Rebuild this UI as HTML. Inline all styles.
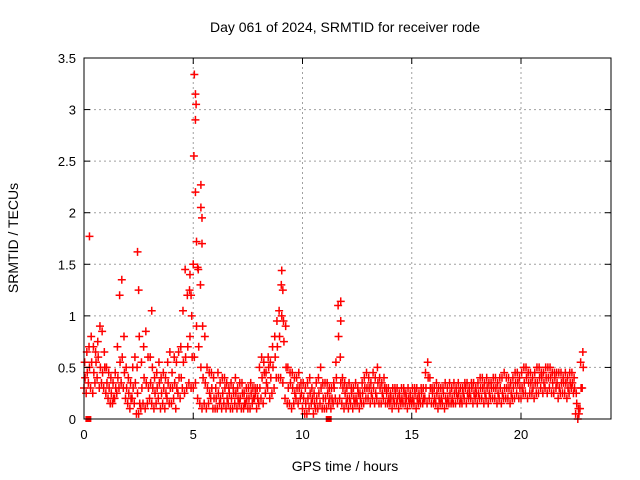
<!DOCTYPE html>
<html><head><meta charset="utf-8"><style>
body{margin:0;background:#fff;}
svg{display:block;font-family:"Liberation Sans",sans-serif;}
</style></head><body>
<svg id="chart" width="640" height="480">
<text x="345" y="32" text-anchor="middle" font-size="14">Day 061 of 2024, SRMTID for receiver rode</text>
<text x="0" y="0" transform="translate(18,238) rotate(-90)" text-anchor="middle" font-size="14">SRMTID / TECUs</text>
<text x="345" y="471" text-anchor="middle" font-size="14">GPS time / hours</text>
<g id="grid"></g><g id="marks"></g><g id="axes"></g>
</svg>
<script>
const xTicks=[0,5,10,15,20];
const yTicks=[0,0.5,1,1.5,2,2.5,3,3.5];
const yTickLabels=["0","0.5","1","1.5","2","2.5","3","3.5"];
const srmtidLow=[.30,.25,.35,.30,.25,.35,.40,.30,.35,.30,.25,.20,.15,.15,.20,.25,.30,.35,.30,.20,.15,.10,.20,.15,.05,.05,.10,.15,.10,.15,.20,.15,.10,.15,.20,.10,.15,.10,.20,.15,.15,.20,.10,.25,.20,.30,.25,.30,.35,.30,.30,.35,.20,.15,.10,.15,.10,.15,.20,.10,.10,.10,.15,.10,.15,.10,.15,.10,.10,.15,.10,.15,.10,.10,.15,.10,.10,.15,.20,.10,.15,.20,.15,.25,.30,.20,.25,.30,.40,.40,.40,.35,.20,.15,.15,.10,.15,.20,.15,.20,.10,.05,.05,.10,.15,.05,.10,.10,.15,.10,.10,.10,.15,.10,.15,.20,.15,.20,.15,.10,.15,.10,.15,.10,.15,.15,.10,.15,.15,.20,.20,.15,.20,.15,.20,.15,.15,.20,.15,.15,.15,.10,.15,.15,.10,.15,.15,.15,.10,.15,.15,.15,.10,.15,.15,.15,.20,.15,.20,.15,.15,.15,.10,.15,.15,.10,.15,.15,.15,.15,.15,.20,.15,.15,.20,.15,.20,.20,.15,.20,.15,.20,.20,.15,.20,.15,.20,.20,.20,.15,.20,.15,.20,.20,.20,.15,.20,.20,.25,.20,.20,.25,.25,.20,.25,.25,.20,.25,.25,.30,.25,.30,.25,.30,.25,.25,.30,.20,.25,.25,.25,.20,.25,.30,.25,.05,.00,.10,.30];
const srmtidMid=[.40,.45,.50,.55,.45,.55,.60,.50,.45,.50,.35,.30,.25,.20,.30,.40,.55,.60,.45,.30,.25,.20,.30,.35,.25,.15,.30,.40,.35,.30,.35,.30,.25,.30,.35,.25,.30,.25,.35,.30,.30,.35,.30,.40,.40,.55,.60,.70,.80,.60,.60,.90,.70,.50,.40,.35,.30,.25,.30,.20,.20,.25,.20,.25,.30,.20,.25,.20,.25,.25,.20,.20,.25,.15,.20,.20,.25,.20,.25,.20,.30,.40,.45,.35,.50,.40,.50,.60,.70,.80,1.00,.75,.50,.30,.35,.30,.25,.30,.30,.25,.20,.15,.20,.25,.20,.15,.20,.25,.30,.20,.20,.25,.20,.20,.30,.40,.80,.35,.30,.25,.20,.20,.25,.20,.20,.25,.20,.25,.30,.30,.30,.25,.30,.25,.35,.30,.25,.30,.25,.20,.20,.20,.25,.20,.20,.20,.25,.20,.20,.20,.20,.25,.20,.20,.25,.20,.30,.40,.30,.25,.20,.25,.20,.20,.25,.20,.20,.25,.20,.25,.25,.25,.20,.25,.30,.25,.25,.30,.25,.25,.25,.30,.30,.25,.30,.25,.30,.30,.30,.25,.30,.25,.30,.30,.30,.25,.30,.35,.35,.30,.30,.35,.40,.35,.35,.30,.35,.35,.40,.40,.35,.40,.40,.40,.35,.40,.35,.30,.35,.35,.35,.30,.35,.35,.30,.15,.05,.30,.50];
const srmtidHigh=[.55,.65,.70,.80,.70,.65,.75,.90,.85,.65,.50,.45,.40,.35,.45,.70,1.20,1.35,.80,.50,.40,.35,.50,.60,.50,.80,.55,.70,.85,.60,.60,.50,.40,.45,.55,.40,.45,.40,.55,.65,.45,.60,.55,.65,.70,1.05,1.45,1.20,1.25,1.00,2.55,3.05,1.45,1.30,.90,.80,.50,.45,.45,.40,.30,.45,.35,.40,.40,.35,.30,.35,.30,.40,.30,.35,.35,.25,.30,.30,.35,.30,.30,.30,.50,.60,.55,.45,.60,.55,.70,.80,.95,1.05,1.30,.95,.90,.50,.45,.45,.40,.40,.45,.35,.35,.30,.35,.40,.30,.25,.35,.40,.50,.35,.35,.35,.30,.30,.35,.55,1.10,.60,.40,.35,.30,.35,.30,.30,.35,.30,.25,.35,.40,.45,.40,.35,.45,.40,.50,.40,.35,.40,.30,.30,.25,.30,.30,.30,.25,.30,.30,.25,.30,.25,.30,.30,.30,.25,.30,.30,.45,.55,.40,.30,.30,.35,.30,.30,.30,.35,.30,.35,.30,.35,.30,.35,.30,.30,.35,.35,.30,.35,.35,.30,.35,.40,.40,.35,.40,.35,.35,.40,.40,.35,.40,.40,.45,.40,.40,.35,.40,.45,.45,.40,.45,.50,.50,.45,.45,.40,.45,.50,.50,.45,.45,.50,.50,.50,.45,.45,.45,.45,.45,.40,.45,.40,.45,.45,.40,.25,.10,.55,.65];
const outlierHours=[0.25,2.45,2.5,3.1,5.05,5.1,5.1,5.1,5.35,5.35,5.4,5.4,5.2,9.05,9.1,11.75,11.75,5.15,4.9,5.0,4.85];
const outlierValues=[1.77,1.62,1.25,1.05,3.34,3.15,2.9,2.2,2.27,2.05,1.95,1.7,1.47,1.44,1.25,1.14,0.95,1.72,1.2,1.5,1.4];
const zeroHours=[0.2,11.2];
const hours=srmtidLow.map((_,i)=>i*0.1);

const X0=84,X1=611,Y0=419,Y1=58;
const xs=h=>X0+h*(521-84)/20;
const ys=v=>Y0-v*(Y0-Y1)/3.5;
const NS="http://www.w3.org/2000/svg";
const grid=document.getElementById('grid'),marks=document.getElementById('marks'),axes=document.getElementById('axes');
function mk(tag,attrs,parent){const e=document.createElementNS(NS,tag);for(const k in attrs)e.setAttribute(k,attrs[k]);parent.appendChild(e);return e;}
xTicks.forEach(t=>{
  const x=xs(t);
  if(t>0){const g=mk('line',{x1:x,x2:x,y1:Y0,y2:Y1,stroke:'#a0a0a0','stroke-dasharray':'2,3'},grid);
  
  }
  mk('line',{x1:x,x2:x,y1:Y0,y2:Y0-6,stroke:'#000'},axes);
  mk('line',{x1:x,x2:x,y1:Y1,y2:Y1+6,stroke:'#000'},axes);
  const l=mk('text',{x:x,y:Y0+20,'text-anchor':'middle','font-size':13},axes);
  l.textContent=t;
  
  
});
yTicks.forEach((t,i)=>{
  const y=ys(t);
  if(t>0&&t<3.5){const g=mk('line',{x1:X0,x2:X1,y1:y,y2:y,stroke:'#a0a0a0','stroke-dasharray':'2,3'},grid);
  
  }
  mk('line',{x1:X0,x2:X0+6,y1:y,y2:y,stroke:'#000'},axes);
  mk('line',{x1:X1,x2:X1-6,y1:y,y2:y,stroke:'#000'},axes);
  const l=mk('text',{x:X0-8,y:y+5,'text-anchor':'end','font-size':13},axes);
  l.textContent=yTickLabels[i];
  
  
});
const frame=mk('rect',{x:X0,y:Y1,width:X1-X0,height:Y0-Y1,fill:'none',stroke:'#000'},axes);


function plus(h,v){
  const x=xs(h),y=ys(v);
  const p=mk('path',{d:`M${x-4},${y}H${x+4}M${x},${y-4}V${y+4}`,stroke:'#f00','stroke-width':1.5,fill:'none'},marks);
  
  
}
hours.forEach((h,i)=>{plus(h,srmtidLow[i]);plus(h+0.05,srmtidMid[i]);plus(h+0.03,srmtidHigh[i]);});
outlierHours.forEach((h,i)=>plus(h,outlierValues[i]));
zeroHours.forEach(h=>{
  const r=mk('rect',{x:xs(h)-3,y:Y0-3,width:6,height:6,fill:'#f00'},marks);
  
  
});
</script>
</body></html>
